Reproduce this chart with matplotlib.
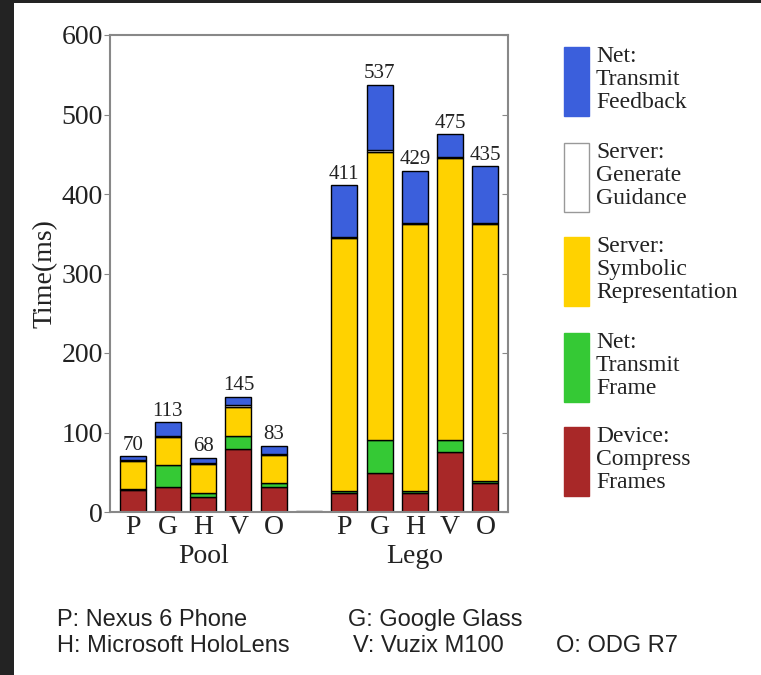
import numpy as np
import matplotlib
matplotlib.use('Agg')
from matplotlib import pyplot as plt
from matplotlib.patches import Rectangle

W, H = 761, 675
SERIF = 'Liberation Serif'
SANS = 'Liberation Sans'

devices = ['P', 'G', 'H', 'V', 'O']
groups = ['Pool', 'Lego']

# per-stage time in ms, Pool bars first then Lego bars
compress = [28, 32, 19, 79, 31, 24, 49, 24, 75, 36]
transmit_frame = [1, 27, 5, 16, 5, 2, 42, 3, 15, 3]
symbolic = [35, 35, 37, 37, 36, 319, 362, 335, 355, 323]
guidance = [1, 1, 1, 2, 1, 1, 2, 1, 2, 1]
transmit_feedback = [5, 18, 6, 11, 10, 65, 82, 66, 28, 72]
totals = [70, 113, 68, 145, 83, 411, 537, 429, 475, 435]
spacer = 1.5  # flat bar between the groups

stages = [compress, transmit_frame, symbolic, guidance, transmit_feedback]
stage_colors = ['#a82828', '#35c935', '#ffd200', 'white', '#3b5fdc']
stage_labels = ['Device:\nCompress\nFrames', 'Net:\nTransmit\nFrame',
                'Server:\nSymbolic\nRepresentation', 'Server:\nGenerate\nGuidance',
                'Net:\nTransmit\nFeedback']

device_names = [('P: Nexus 6 Phone', 57, 620), ('G: Google Glass', 348, 620),
                ('H: Microsoft HoloLens', 57, 646), ('V: Vuzix M100', 353, 646),
                ('O: ODG R7', 556, 646)]


def fx(px):
    return px / W


def fy(py):
    return 1 - py / H


fig = plt.figure(figsize=(W / 100, H / 100), dpi=100)
fig.patch.set_facecolor('white')

# dark frame strips on the left and top
fig.add_artist(Rectangle((0, 0), fx(14), 1, transform=fig.transFigure,
                         facecolor='#232323', edgecolor='none'))
fig.add_artist(Rectangle((0, fy(3)), 1, 1, transform=fig.transFigure,
                         facecolor='#232323', edgecolor='none'))

ax = fig.add_axes([fx(110), fy(512), fx(508) - fx(110), fy(35) - fy(512)])

xpos = np.array([0, 1, 2, 3, 4, 6, 7, 8, 9, 10])
bottom = np.zeros(len(xpos))
for vals, col in zip(stages, stage_colors):
    vals = np.array(vals)
    ax.bar(xpos, vals, bottom=bottom, width=0.74, color=col,
           edgecolor='black', linewidth=1.0, zorder=2)
    bottom += vals
ax.bar([5], [spacer], width=0.74, color='#333333', edgecolor='#333333',
       linewidth=1.0, zorder=2)

for x, t in zip(xpos, totals):
    ax.text(x, t + 2, str(t), ha='center', va='bottom', fontsize=15,
            family=SERIF, color='#222222')

ax.set_xlim(-0.64, 10.64)
ax.set_ylim(0, 600)
ax.set_yticks(range(0, 601, 100))
ax.set_xticks(xpos)
ax.set_xticklabels(devices * 2, family=SERIF, fontsize=20, color='#222222')
for lab in ax.get_yticklabels():
    lab.set_family(SERIF)
ax.tick_params(axis='y', labelsize=20, direction='out', length=4, pad=1,
               color='#888888', labelcolor='#222222')
ax.tick_params(axis='x', length=0, pad=2)
for sp in ax.spines.values():
    sp.set_color('#888888')
    sp.set_linewidth(1.5)

# inward ticks on the right spine
ax2 = ax.twinx()
ax2.set_ylim(0, 600)
ax2.set_yticks(range(0, 601, 100))
ax2.tick_params(axis='y', direction='in', length=4, labelright=False,
                color='#888888')
ax2.spines[:].set_visible(False)

ax.set_ylabel('Time(ms)', family=SERIF, fontsize=20, color='#222222', labelpad=3)

for gx, name in zip([2, 8], groups):
    ax.annotate(name, xy=(gx, 0), xycoords=('data', 'axes fraction'),
                xytext=(0, -23), textcoords='offset points', ha='center',
                va='top', family=SERIF, fontsize=20, color='#222222')

# legend drawn as stacked swatches with three-line labels
legend_tops = [47, 143, 237, 333, 427]
for top, col, lab in zip(legend_tops, stage_colors[::-1], stage_labels[::-1]):
    edge = '#999999' if col == 'white' else col
    fig.add_artist(Rectangle((fx(564), fy(top + 69)), fx(25), 69 / H,
                             transform=fig.transFigure, facecolor=col,
                             edgecolor=edge, linewidth=1.0))
    fig.text(fx(596), fy(top - 1), lab, ha='left', va='top', family=SERIF,
             fontsize=17, linespacing=1.12, color='#222222')

for txt, px, py in device_names:
    fig.text(fx(px), fy(py), txt, ha='left', va='center', family=SANS,
             fontsize=17, color='#222222')

fig.savefig('out.png', dpi=100)
